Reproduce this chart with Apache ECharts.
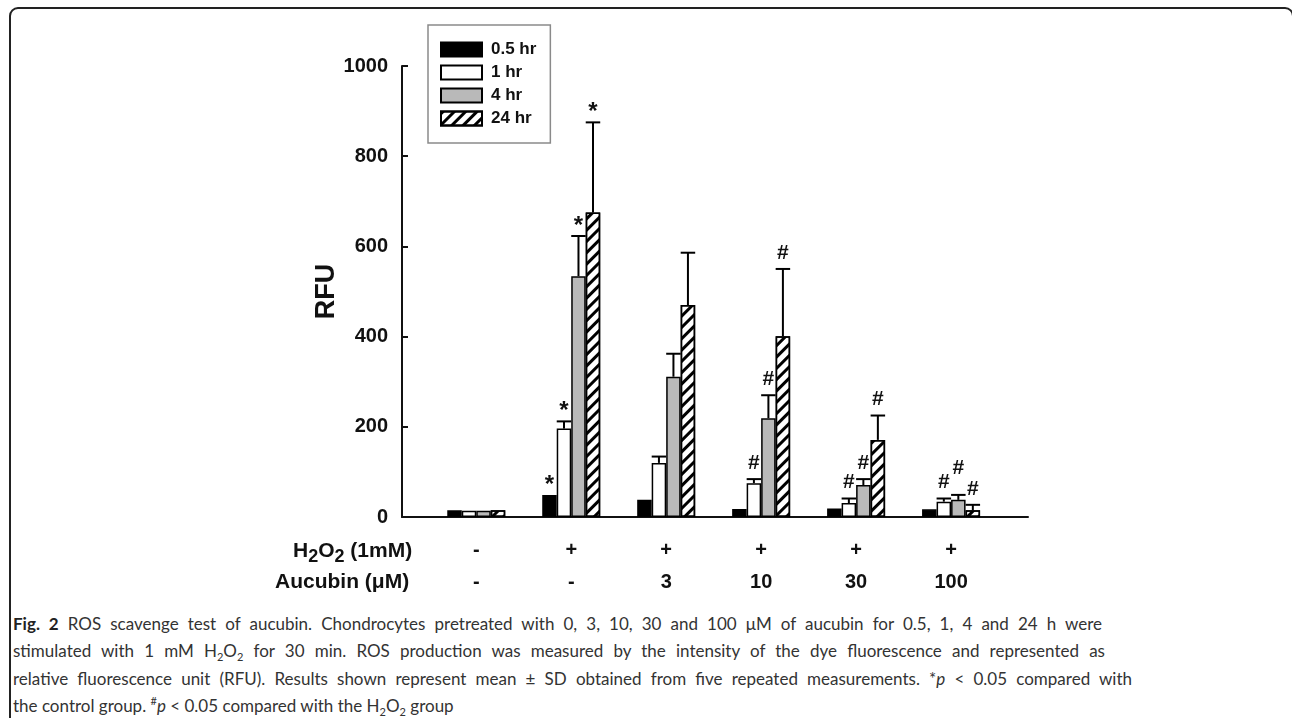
<!DOCTYPE html>
<html>
<head>
<meta charset="utf-8">
<script src="https://cdn.jsdelivr.net/npm/echarts@6.0.0/dist/echarts.min.js"></script>
<style>
  html, body { margin: 0; padding: 0; background: #fff; }
  #frame { position: absolute; left: 9px; top: 7px; width: 1285px; height: 740px; border: 2px solid #222; border-radius: 9px; box-sizing: border-box; }
  #chart { position: absolute; left: 0; top: 0; width: 1292px; height: 605px; }
  #caption { position: absolute; left: 13px; top: 610px; font-family: Lato, "Open Sans", sans-serif; font-size: 17px; line-height: 27.3px; color: #333; }
  #caption div { height: 27.3px; white-space: nowrap; text-align: justify; text-align-last: justify; }
  #caption b { color: #222; }
  #caption sub, #caption sup { font-size: 11px; line-height: 0; position: relative; vertical-align: baseline; }
  #caption sub { top: 4px; }
  #caption sup { top: -7px; }
</style>
</head>
<body>
<div id="frame"></div>
<div id="chart"></div>
<div id="caption">
  <div style="width:1089px"><b>Fig. 2</b> ROS scavenge test of aucubin. Chondrocytes pretreated with 0, 3, 10, 30 and 100 μM of aucubin for 0.5, 1, 4 and 24 h were</div>
  <div style="width:1092px">stimulated with 1 mM H<sub>2</sub>O<sub>2</sub> for 30 min. ROS production was measured by the intensity of the dye fluorescence and represented as</div>
  <div style="width:1119px">relative fluorescence unit (RFU). Results shown represent mean ± SD obtained from five repeated measurements. *<i>p</i> &lt; 0.05 compared with</div>
  <div style="text-align:left;text-align-last:left">the control group. <sup>#</sup><i>p</i> &lt; 0.05 compared with the H<sub>2</sub>O<sub>2</sub> group</div>
</div>
<script>
// 横轴两行标签
const h2o2Row = ['-', '+', '+', '+', '+', '+'];
const aucubinRow = ['-', '-', '3', '10', '30', '100'];
const rowNames = ['{b|H}{s|2}{b|O}{s|2}{b| (1mM)}', '{b|Aucubin (μM)}'];
const seriesNames = ['0.5 hr', '1 hr', '4 hr', '24 hr'];
const yTicks = [0, 200, 400, 600, 800, 1000];

// 均值 / SD / 显著性标记
const mean05 = [15, 49, 38, 18, 19, 17];
const sd05 = [0, 0, 0, 0, 0, 0];
const mean1 = [14, 196, 120, 75, 31, 34];
const sd1 = [0, 16, 14, 9, 10, 7];
const mean4 = [14, 534, 311, 219, 71, 38];
const sd4 = [0, 89, 51, 51, 13, 11];
const mean24 = [15, 675, 470, 401, 171, 15];
const sd24 = [0, 200, 116, 149, 54, 12];
const mark05 = ['', '*', '', '', '', ''];
const mark1 = ['', '*', '', '#', '#', '#'];
const mark4 = ['', '*', '', '#', '#', '#'];
const mark24 = ['', '*', '', '#', '#', '#'];

const means = [mean05, mean1, mean4, mean24];
const sds = [sd05, sd1, sd4, sd24];
const marks = [mark05, mark1, mark4, mark24];

const FONT = '"Liberation Sans", Arial, sans-serif';
const INK = '#111';
const BAR_W = 14.5;
const fills = ['#000', '#fff', '#b9b9b9', '#fff'];
const hatch = { symbol: 'rect', symbolSize: 1, dashArrayX: [1, 0], dashArrayY: [2.6, 5], rotation: -Math.PI / 4, color: '#000' };

function markY(api, g, s) {
    const cap = api.coord([g, means[s][g] + sds[s][g]])[1];
    let y = cap - (marks[s][g] === '*' ? 10 : 16);
    if (s > 0 && marks[s - 1][g]) {
        const prev = markY(api, g, s - 1);
        if (Math.abs(prev - y) < 14) y = prev - 14;
    }
    return y;
}

const errData = [];
means.forEach((m, s) => m.forEach((v, g) => errData.push([g, v, sds[s][g], s])));

const chart = echarts.init(document.getElementById('chart'));
chart.setOption({
    animation: false,
    grid: { left: 402, top: 66, width: 626, height: 451 },
    legend: {
        orient: 'vertical', left: 428, top: 25, padding: [16, 14, 16, 12],
        itemWidth: 41, itemHeight: 14, itemGap: 6, icon: 'rect',
        borderColor: '#8a8a8a', borderWidth: 1.5, selectedMode: false,
        textStyle: { fontFamily: FONT, fontWeight: 'bold', fontSize: 17, color: INK, padding: [0, 0, 0, 4] },
        data: seriesNames
    },
    xAxis: {
        type: 'value', min: -0.782, max: 5.81,
        axisLine: { show: true, onZero: false, lineStyle: { color: INK, width: 2 } },
        axisTick: { show: false }, splitLine: { show: false },
        axisLabel: {
            customValues: [0, 1, 2, 3, 4, 5], margin: 17,
            formatter: v => `{a|${h2o2Row[v]}}\n{a|${aucubinRow[v]}}`,
            rich: { a: { fontFamily: FONT, fontWeight: 'bold', fontSize: 20, lineHeight: 32, color: INK } }
        }
    },
    yAxis: {
        type: 'value', min: yTicks[0], max: yTicks[yTicks.length - 1], interval: 200,
        name: 'RFU', nameLocation: 'middle', nameGap: 54, nameRotate: 90,
        nameTextStyle: { fontFamily: FONT, fontWeight: 'bold', fontSize: 27, color: INK },
        axisLine: { show: true, onZero: false, lineStyle: { color: INK, width: 2 } },
        axisTick: { show: true, inside: true, length: 6, lineStyle: { color: INK, width: 2 } },
        axisLabel: { margin: 14, fontFamily: FONT, fontWeight: 'bold', fontSize: 20, color: INK, formatter: v => String(v) },
        splitLine: { show: false }
    },
    graphic: rowNames.map((t, i) => ({
        type: 'text', x: i === 0 ? 293 : 275, y: i === 0 ? 551 : 582,
        style: {
            text: t, verticalAlign: 'middle', align: 'left',
            rich: {
                b: { fontFamily: FONT, fontWeight: 'bold', fontSize: 21, lineHeight: 20, fill: INK },
                s: { fontFamily: FONT, fontWeight: 'bold', fontSize: 18, lineHeight: 18, padding: [12, 0, 0, 0], fill: INK }
            }
        }
    })),
    series: means.map((m, s) => ({
        name: seriesNames[s], type: 'bar', barWidth: BAR_W, barGap: '0%',
        data: m.map((v, g) => [g, v]),
        itemStyle: Object.assign({ color: fills[s], borderColor: '#000', borderWidth: 1.5 }, s === 3 ? { decal: hatch } : {}),
        emphasis: { disabled: true }, z: 2
    })).concat([{
        type: 'custom', data: errData, z: 3, silent: true,
        encode: { x: 0, y: 1 },
        renderItem: (params, api) => {
            const g = api.value(0), v = api.value(1), sd = api.value(2), s = api.value(3);
            const cx = api.coord([g, 0])[0] + (s - 1.5) * BAR_W;
            const yTop = api.coord([g, v])[1];
            const yCap = api.coord([g, v + sd])[1];
            const lineStyle = { stroke: '#000', lineWidth: 2 };
            const children = [];
            if (sd > 0) {
                children.push({ type: 'line', shape: { x1: cx, y1: yTop, x2: cx, y2: yCap }, style: lineStyle });
                children.push({ type: 'line', shape: { x1: cx - BAR_W / 2, y1: yCap, x2: cx + BAR_W / 2, y2: yCap }, style: lineStyle });
            }
            const mk = marks[s][g];
            if (mk) {
                children.push({
                    type: 'text',
                    style: { text: mk, x: cx, y: markY(api, g, s), align: 'center', verticalAlign: 'middle',
                        font: `bold ${mk === '*' ? 24 : 21}px ${FONT}`, fill: INK }
                });
            }
            return { type: 'group', children };
        }
    }])
});
</script>
</body>
</html>
